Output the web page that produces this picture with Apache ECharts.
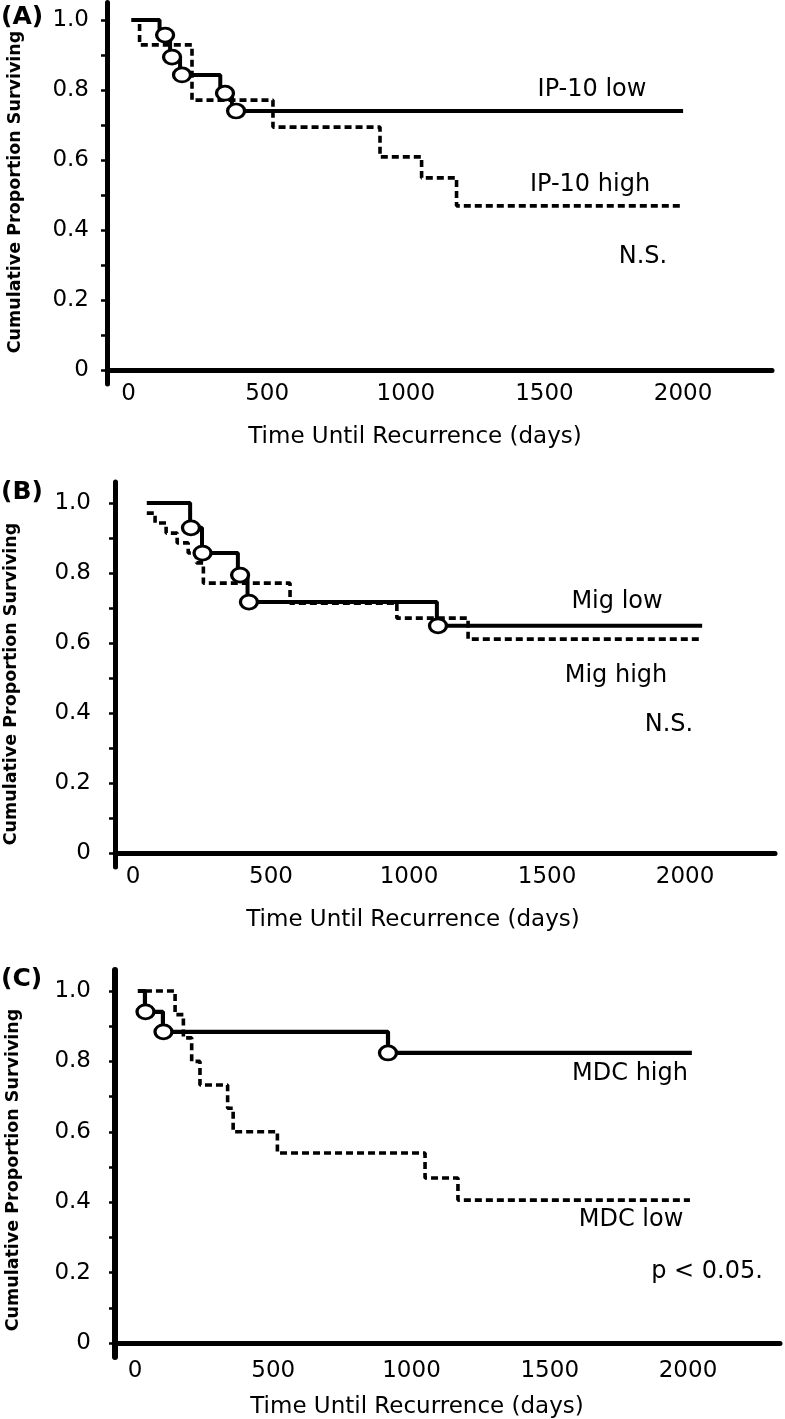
<!DOCTYPE html>
<html>
<head>
<meta charset="utf-8">
<script src="https://cdn.jsdelivr.net/npm/echarts@6/dist/echarts.min.js"></script>
<style>html,body{margin:0;padding:0;background:#fff}#c{width:785px;height:1419px}</style>
</head>
<body>
<div id="c"></div>
<script>
// ---------- Data (days, cumulative proportion surviving) ----------
// Panel A: IP-10
const tA_low  = [10, 112, 150, 186, 331, 373, 2000];
const sA_low  = [1.0, 0.957, 0.894, 0.843, 0.791, 0.74, 0.74];
const tA_high = [15, 40, 229, 521, 907, 1057, 1183, 2000];
const sA_high = [1.0, 0.929, 0.771, 0.694, 0.609, 0.549, 0.469, 0.469];
const tA_cens = [132, 157, 193, 348, 388];
const sA_cens = [0.957, 0.894, 0.843, 0.791, 0.74];
// Panel B: Mig
const tB_low  = [50, 207, 250, 380, 415, 1101, 2062];
const sB_low  = [1.0, 0.929, 0.857, 0.794, 0.717, 0.649, 0.649];
const tB_high = [50, 80, 120, 160, 200, 230, 255, 569, 956, 1214, 2062];
const sB_high = [0.971, 0.943, 0.914, 0.886, 0.857, 0.829, 0.771, 0.714, 0.671, 0.611, 0.611];
const tB_cens = [210, 252, 388, 420, 1105];
const sB_cens = [0.929, 0.857, 0.794, 0.717, 0.649];
// Panel C: MDC
const tC_high = [10, 36, 101, 915, 2014];
const sC_high = [1.0, 0.941, 0.884, 0.824, 0.824];
const tC_low  = [36, 145, 175, 205, 235, 335, 355, 515, 1049, 1168, 2007];
const sC_low  = [1.0, 0.933, 0.867, 0.8, 0.733, 0.667, 0.6, 0.54, 0.469, 0.406, 0.406];
const tC_cens = [38, 103, 915];
const sC_cens = [0.941, 0.884, 0.824];

const xTicks = [0, 500, 1000, 1500, 2000];
const yTicks = [0, 0.1, 0.2, 0.3, 0.4, 0.5, 0.6, 0.7, 0.8, 0.9, 1.0];
const yLabels = [0, 0.2, 0.4, 0.6, 0.8, 1.0];

const xTitle = 'Time Until Recurrence (days)';
const yTitle = 'Cumulative Proportion Surviving';

// ---------- helpers ----------
const FONT = '"DejaVu Sans", sans-serif';
const zip = (t, s) => t.map((v, i) => [v, s[i]]);

function xAxisFor(i, min, max, margin) {
  return {
    type: 'value', gridIndex: i, min: min, max: max,
    axisLine: { show: true, onZero: true, lineStyle: { color: '#000', width: 5 } },
    axisTick: { show: false },
    splitLine: { show: false },
    axisLabel: { customValues: xTicks, color: '#000', fontFamily: FONT, fontSize: 23, margin: margin,
      formatter: v => String(v) }
  };
}
function yAxisFor(i, max, margin, w) {
  return {
    type: 'value', gridIndex: i, min: -0.04, max: max,
    axisLine: { show: true, onZero: false, lineStyle: { color: '#000', width: w } },
    axisTick: { show: true, customValues: yTicks, length: 6, lineStyle: { color: '#000', width: 2.5 } },
    splitLine: { show: false },
    axisLabel: { customValues: yLabels, color: '#000', fontFamily: FONT, fontSize: 23, margin: margin,
      formatter: v => (v === 0 ? '0' : v.toFixed(1)) }
  };
}
function solid(i, t, s, w) {
  return { type: 'line', xAxisIndex: i, yAxisIndex: i, step: 'end', data: zip(t, s), symbol: 'none',
    lineStyle: { color: '#000', width: w }, z: 3 };
}
function dashed(i, t, s) {
  return { type: 'line', xAxisIndex: i, yAxisIndex: i, step: 'end', data: zip(t, s), symbol: 'none',
    lineStyle: { color: '#000', width: 3.6, type: [7, 4] }, z: 2 };
}
function cens(i, t, s) {
  return { type: 'scatter', xAxisIndex: i, yAxisIndex: i, data: zip(t, s), symbol: 'circle',
    symbolSize: [17, 14], itemStyle: { color: '#fff', borderColor: '#000', borderWidth: 3, opacity: 1 }, z: 4 };
}
function txt(x, y, text, size, bold, align, rot) {
  return { type: 'text', x: x, y: y, rotation: rot || 0,
    style: { text: text, font: (bold ? 'bold ' : '') + size + 'px ' + FONT, fill: '#000',
      align: align || 'center', verticalAlign: 'middle' } };
}

const chart = echarts.init(document.getElementById('c'), null, { renderer: 'canvas' });
chart.setOption({
  animation: false,
  backgroundColor: '#fff',
  grid: [
    { left: 107, top: 2.5, width: 665, height: 381.5, outerBoundsMode: 'none' },
    { left: 115, top: 482, width: 660, height: 385, outerBoundsMode: 'none' },
    { left: 115, top: 969.9, width: 665, height: 387.2, outerBoundsMode: 'none' }
  ],
  xAxis: [
    xAxisFor(0, -77.5, 2320.6, -1),
    xAxisFor(1, -65.2, 2326, -1),
    xAxisFor(2, -72.3, 2332.7, 2)
  ],
  yAxis: [
    yAxisFor(0, 1.05, 18, 5),
    yAxisFor(1, 1.06, 24, 5),
    yAxisFor(2, 1.06, 24, 6)
  ],
  series: [
    dashed(0, tA_high, sA_high), solid(0, tA_low, sA_low, 4), cens(0, tA_cens, sA_cens),
    dashed(1, tB_high, sB_high), solid(1, tB_low, sB_low, 4), cens(1, tB_cens, sB_cens),
    dashed(2, tC_low, sC_low), solid(2, tC_high, sC_high, 4.2), cens(2, tC_cens, sC_cens)
  ],
  graphic: [
    txt(1, 17, '(A)', 25, true, 'left'),
    txt(1, 492, '(B)', 25, true, 'left'),
    txt(1, 979, '(C)', 25, true, 'left'),
    txt(15, 192, yTitle, 17.5, true, 'center', Math.PI / 2),
    txt(11, 684, yTitle, 17.5, true, 'center', Math.PI / 2),
    txt(13, 1170, yTitle, 17.5, true, 'center', Math.PI / 2),
    txt(415, 437, xTitle, 23),
    txt(413, 920, xTitle, 23),
    txt(417, 1407, xTitle, 23),
    txt(592, 90, 'IP-10 low', 24),
    txt(590, 185, 'IP-10 high', 24),
    txt(643, 257, 'N.S.', 24),
    txt(617, 602, 'Mig low', 24),
    txt(616, 676, 'Mig high', 24),
    txt(669, 725, 'N.S.', 24),
    txt(630, 1074, 'MDC high', 24),
    txt(631, 1220, 'MDC low', 24),
    txt(707, 1272, 'p < 0.05.', 24)
  ]
});
</script>
</body>
</html>
